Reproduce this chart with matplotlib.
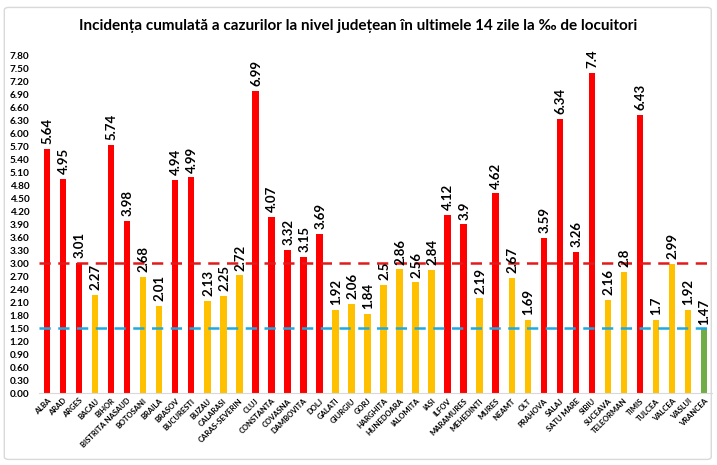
import matplotlib
matplotlib.use("Agg")
import matplotlib.pyplot as plt
from matplotlib.patches import FancyBboxPatch
import numpy as np

# County data: cumulative incidence over 14 days per 1000 inhabitants
counties = ["ALBA", "ARAD", "ARGES", "BACAU", "BIHOR", "BISTRITA NASAUD", "BOTOSANI",
            "BRAILA", "BRASOV", "BUCURESTI", "BUZAU", "CALARASI", "CARAS-SEVERIN", "CLUJ",
            "CONSTANTA", "COVASNA", "DAMBOVITA", "DOLJ", "GALATI", "GIURGIU", "GORJ",
            "HARGHITA", "HUNEDOARA", "IALOMITA", "IASI", "ILFOV", "MARAMURES", "MEHEDINTI",
            "MURES", "NEAMT", "OLT", "PRAHOVA", "SALAJ", "SATU MARE", "SIBIU", "SUCEAVA",
            "TELEORMAN", "TIMIS", "TULCEA", "VALCEA", "VASLUI", "VRANCEA"]
values = [5.64, 4.95, 3.01, 2.27, 5.74, 3.98, 2.68,
          2.01, 4.94, 4.99, 2.13, 2.25, 2.72, 6.99,
          4.07, 3.32, 3.15, 3.69, 1.92, 2.06, 1.84,
          2.5, 2.86, 2.56, 2.84, 4.12, 3.9, 2.19,
          4.62, 2.67, 1.69, 3.59, 6.34, 3.26, 7.4, 2.16,
          2.8, 6.43, 1.7, 2.99, 1.92, 1.47]
value_labels = ["5.64", "4.95", "3.01", "2.27", "5.74", "3.98", "2.68",
                "2.01", "4.94", "4.99", "2.13", "2.25", "2.72", "6.99",
                "4.07", "3.32", "3.15", "3.69", "1.92", "2.06", "1.84",
                "2.5", "2.86", "2.56", "2.84", "4.12", "3.9", "2.19",
                "4.62", "2.67", "1.69", "3.59", "6.34", "3.26", "7.4", "2.16",
                "2.8", "6.43", "1.7", "2.99", "1.92", "1.47"]
red_threshold = 3.0
yellow_threshold = 1.5
y_ticks = [round(0.3 * i, 2) for i in range(27)]

title = "Incidența cumulată a cazurilor la nivel județean în ultimele 14 zile la ‰ de locuitori"

plt.rcParams['font.family'] = ['Lato', 'DejaVu Sans']

fig = plt.figure(figsize=(7.17, 4.65), dpi=100)
fig.patch.set_facecolor('white')

# light frame around the chart
frame = FancyBboxPatch((0.006, 0.012), 0.986, 0.972, boxstyle="round,pad=0,rounding_size=0.006",
                       transform=fig.transFigure, fill=False, ec='#d9d9d9', lw=1.0)
fig.patches.append(frame)

ax = fig.add_axes([0.0545, 0.1548, 0.9385, 0.7527])

vals = np.array(values)
colors = np.where(vals > red_threshold, '#FF0000',
                  np.where(vals > yellow_threshold, '#FFC000', '#70AD47'))
x = np.arange(len(counties))
ax.bar(x, vals, width=0.4, color=colors, zorder=2)

# thresholds
ax.axhline(red_threshold, color='#E31A1C', lw=1.8, ls=(0, (4.5, 3)), zorder=3)
ax.axhline(yellow_threshold, color='#1FA9E1', lw=1.8, ls=(0, (4.5, 3)), zorder=3)

for xi, v, lbl in zip(x, vals, value_labels):
    ax.annotate(lbl, (xi, v), xytext=(0.5, 3.5), textcoords='offset points', rotation=90,
                ha='center', va='bottom', fontsize=9.5, fontweight='bold', zorder=4)

ax.set_xlim(-0.5, len(counties) - 0.5)
ax.set_ylim(0, 8.1)
ax.set_yticks(y_ticks)
ax.set_yticklabels(["%.2f" % t for t in y_ticks], fontsize=7.2, fontweight='bold')
ax.set_xticks(x)
ax.set_xticklabels(counties, rotation=45, ha='right', rotation_mode='anchor',
                   fontsize=5.5, fontweight='bold')
ax.tick_params(axis='both', length=0)
ax.tick_params(axis='y', pad=7)
ax.tick_params(axis='x', pad=3)
for s in ['top', 'right', 'left']:
    ax.spines[s].set_visible(False)
ax.spines['bottom'].set_color('#d9d9d9')

fig.text(0.5, 0.945, title, ha='center', va='center', fontsize=11, fontweight='bold')

fig.savefig("out.png", dpi=100)
